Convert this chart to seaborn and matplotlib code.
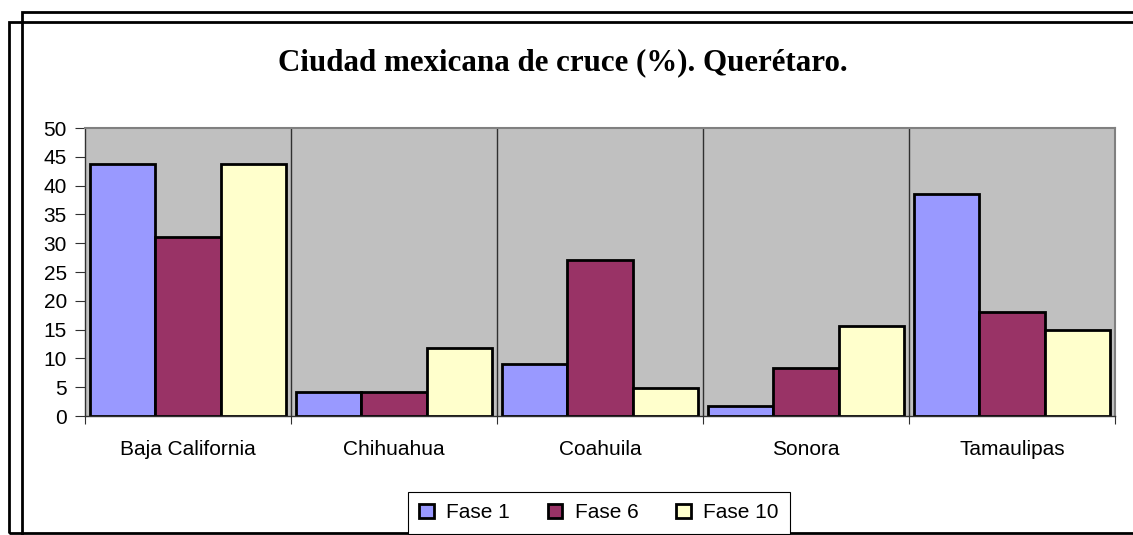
import pandas as pd
import matplotlib.pyplot as plt
import seaborn as sns
from matplotlib.patches import Rectangle

# values
estados = ['Baja California', 'Chihuahua', 'Coahuila', 'Sonora', 'Tamaulipas']
fase_1 = [43.8, 4.2, 9.0, 1.7, 38.5]
fase_6 = [31.0, 4.2, 27.1, 8.3, 18.0]
fase_10 = [43.8, 11.8, 4.9, 15.6, 14.9]
fases = ['Fase 1', 'Fase 6', 'Fase 10']
colores = ['#9999FF', '#993366', '#FFFFCC']

rows = []
for fase, vals in zip(fases, [fase_1, fase_6, fase_10]):
    for est, v in zip(estados, vals):
        rows.append({'estado': est, 'fase': fase, 'pct': v})
data = pd.DataFrame(rows)

sns.set_style('white')
plt.rcParams['font.family'] = ['Liberation Sans', 'DejaVu Sans']
plt.rcParams['text.color'] = 'black'
plt.rcParams['xtick.color'] = 'black'
plt.rcParams['ytick.color'] = 'black'

fig = plt.figure(figsize=(11.33, 5.35), dpi=100)
W, H = 1133, 535
ax = fig.add_axes([85 / W, 1 - 416 / H, (1115 - 85) / W, (416 - 128) / H])
ax.set_facecolor('#C0C0C0')

sns.barplot(data=data, x='estado', y='pct', hue='fase', hue_order=fases,
            palette=colores, width=0.95, gap=0, edgecolor='black', linewidth=2,
            saturation=1, ax=ax, legend=True)

ax.set_xlim(-0.5, len(estados) - 0.5)
ax.set_ylim(0, 50)
ax.set_yticks(range(0, 51, 5))
ax.set_xlabel('')
ax.set_ylabel('')

# category separators
for i in range(len(estados) - 1):
    ax.axvline(i + 0.5, color='#303030', linewidth=1, zorder=0.5)

ax.set_xticks([i - 0.5 for i in range(len(estados) + 1)])
ax.set_xticklabels([])
ax.set_xticks(range(len(estados)), minor=True)
ax.set_xticklabels(estados, minor=True, fontsize=15)
ax.tick_params(axis='x', which='major', length=6, color='#303030', direction='out', bottom=True)
ax.tick_params(axis='x', which='minor', length=0, pad=17)
ax.tick_params(axis='y', length=7, color='#303030', direction='out', left=True, labelsize=15, pad=6)

for s in ax.spines.values():
    s.set_color('#808080')
    s.set_linewidth(1.5)
ax.spines['left'].set_color('#303030')
ax.spines['bottom'].set_color('#303030')
ax.spines['left'].set_linewidth(1)
ax.spines['bottom'].set_linewidth(1)

fig.text(563 / W, 1 - 63 / H, 'Ciudad mexicana de cruce (%). Querétaro.',
         ha='center', va='center', fontsize=22.3, fontweight='bold',
         family=['Liberation Serif', 'DejaVu Serif'])

handles, labels = ax.get_legend_handles_labels()
ax.legend_.remove()
leg = fig.legend(handles, labels, loc='upper center', ncol=3,
                 bbox_to_anchor=(599 / W, 1 - 492 / H), frameon=True, fancybox=False,
                 edgecolor='black', framealpha=1, fontsize=15, handlelength=0.7,
                 handleheight=0.7, columnspacing=1.8, handletextpad=0.6,
                 borderpad=0.55, borderaxespad=0)
leg.get_frame().set_linewidth(0.8)

# double chart frame
fig.add_artist(Rectangle((22 / W, -0.1), 1.2, (1 - 12 / H) + 0.1, transform=fig.transFigure,
                         fill=False, edgecolor='black', linewidth=2))
fig.add_artist(Rectangle((9 / W, 1 - 533 / H), 1.2, (533 - 22) / H, transform=fig.transFigure,
                         fill=False, edgecolor='black', linewidth=2))

plt.savefig('out.png', dpi=100)
